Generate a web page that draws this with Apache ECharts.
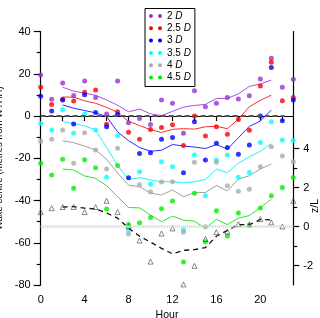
<!DOCTYPE html>
<html>
<head>
<meta charset="utf-8">
<script src="https://cdn.jsdelivr.net/npm/echarts@6/dist/echarts.min.js"></script>
<style>
html,body{margin:0;padding:0;background:#fff;}
#chart{width:320px;height:318px;}
</style>
</head>
<body>
<div id="chart"></div>
<script>
// ---- data ----
const hours = [0,1,2,3,4,5,6,7,8,9,10,11,12,13,14,15,16,17,18,19,20,21,22,23];
const fitHours = [2,3,4,5,6,7,8,9,10,11,12,13,14,15,16,17,18,19,20,21];
const seriesNames = ['2 D','2.5 D','3 D','3.5 D','4 D','4.5 D'];

const wake2D  = [19.4,7.9,15.6,9.7,16.6,8.8,1.0,16.6,-3.2,-1.2,-4.0,7.6,6.0,-8.2,12.0,4.4,6.0,8.8,8.0,9.6,17.5,27.3,13.6,17.4];
const wake25D = [13.6,5.5,7.9,7.1,11.3,12.3,-3.9,2.0,-7.7,-11.0,-6.4,-5.5,-4.1,-14.0,0.0,-9.5,-5.1,-8.6,-1.6,-6.8,14.2,25.4,7.2,8.8];
const wake3D  = [9.4,2.4,7.6,-3.8,10.1,1.6,-5.1,0.7,-29.2,-17.7,-17.4,-11.0,-10.2,-26.9,-2.7,-20.8,-12.9,-14.9,-18.1,-13.7,0.0,22.9,-2.2,7.6];
const wake35D = [-3.6,-6.6,3.0,-8.2,0.9,-6.6,-29.0,-9.4,-54.0,-26.4,-32.3,-21.6,-24.0,-53.8,-18.5,-37.7,-20.8,-18.5,-29.0,-26.7,-12.5,-2.7,-11.4,-11.6];
const wake4D  = [-11.9,-11.0,-6.6,-22.4,-7.9,-16.1,-25.1,-15.3,-55.9,-32.5,-36.0,-31.3,-31.1,-55.0,-21.9,-52.4,-21.9,-33.0,-35.6,-34.7,-24.0,-14.5,-18.9,-21.6];
const wake45D = [-22.4,-27.9,-20.5,-34.2,-20.7,-24.5,-44.0,-23.4,-51.4,-50.5,-48.0,-43.9,-40.2,-69.1,-36.6,-59.5,-44.9,-56.8,-45.9,-51.6,-43.6,-37.8,-33.8,-29.1];
const zOverL  = [0.74,0.94,1.0,1.0,0.74,1.0,1.32,0.74,0.02,-0.72,-1.8,-0.36,-0.1,-2.97,-2.02,-0.64,-0.29,-0.26,0.12,0.1,0.38,0.21,0.0,1.32];

const fit2D  = [13.6,11.8,10.8,9.8,7.6,5.1,2.0,3.3,1.0,0.2,2.2,4.2,5.0,5.5,8.3,8.3,10.5,14.0,15.2,17.0];
const fit25D = [9.0,8.9,7.2,6.0,4.1,1.7,-2.5,-4.5,-6.5,-7.8,-6.3,-6.0,-6.2,-5.1,-4.9,-6.0,-1.5,4.4,7.4,9.9];
const fit3D  = [5.2,3.7,2.6,1.5,-0.3,-7.5,-11.7,-14.9,-16.7,-16.2,-13.5,-14.2,-14.7,-15.4,-13.5,-15.7,-10.3,-4.9,-2.4,2.8];
const fit35D = [-2.7,-3.5,-4.7,-6.6,-14.9,-23.5,-30.0,-29.2,-30.3,-31.1,-31.1,-31.6,-31.1,-30.0,-25.2,-26.8,-22.4,-19.3,-16.7,-13.1];
const fit4D  = [-11.7,-12.6,-14.3,-16.1,-20.5,-27.0,-32.7,-33.5,-36.5,-37.4,-35.0,-38.2,-36.3,-36.2,-32.9,-35.4,-29.9,-28.3,-25.1,-22.7];
const fit45D = [-25.1,-25.6,-28.4,-29.5,-33.0,-38.2,-43.3,-43.5,-46.9,-50.0,-47.4,-49.3,-49.8,-53.2,-48.9,-51.4,-48.4,-47.1,-43.4,-39.4];
const fitZL  = [1.0,1.02,0.94,0.9,0.69,0.43,-0.08,-0.5,-0.8,-1.12,-1.4,-1.22,-1.19,-1.08,-0.5,-0.2,0.09,0.09,0.36,0.34];

const xTickValues = [0,2,4,6,8,10,12,14,16,18,20,22];
const xLabelValues = [0,4,8,12,16,20];
const zTickValues = [-2,0,2,4];
const zMinorTickValues = [-1,1,3];

// ---- styles ----
const dotColors  = ['#9a30d0','#ff0000','#0000ff','#00ffff','#aaaaaa','#00ee00'];
const lineColors = ['#a850e0','#ff2a2a','#2a2aff','#22eeff','#a0a0a0','#33dd33'];
const FONT = "'Liberation Sans', Arial, sans-serif";

const wakeArrays = [wake2D, wake25D, wake3D, wake35D, wake4D, wake45D];
const fitArrays  = [fit2D, fit25D, fit3D, fit35D, fit4D, fit45D];

const series = [];
seriesNames.forEach((name, i) => {
  series.push({
    name: name, type: 'line', data: fitHours.map((h, j) => [h, fitArrays[i][j]]),
    showSymbol: false, symbol: 'none', lineStyle: {color: lineColors[i], width: 1},
    itemStyle: {color: lineColors[i]}, silent: true, z: 2
  });
});
seriesNames.forEach((name, i) => {
  const s = {
    name: name, type: 'scatter', data: hours.map((h, j) => [h, wakeArrays[i][j]]),
    symbol: 'circle', symbolSize: 5, itemStyle: {color: dotColors[i]}, z: 3
  };
  if (i === 0) {
    s.markLine = {
      silent: true, symbol: 'none', label: {show: false},
      lineStyle: {color: '#555', width: 2, type: [5, 3]},
      data: [[{coord: [0, 0]}, {coord: [22.2, 0]}]]
    };
  }
  series.push(s);
});
series.push({
  name: 'zL', type: 'scatter', yAxisIndex: 1,
  data: hours.map((h, j) => [h, zOverL[j]]),
  symbol: 'triangle', symbolSize: 5,
  itemStyle: {color: 'rgba(255,255,255,0)', borderColor: '#444', borderWidth: 0.8}, z: 4,
  markLine: {
    silent: true, symbol: 'none', label: {show: false},
    lineStyle: {color: '#d4d4d4', width: 3, type: [1, 1]},
    data: [{yAxis: 0}]
  }
});
series.push({
  name: 'zL fit', type: 'line', yAxisIndex: 1,
  data: fitHours.map((h, j) => [h, fitZL[j]]),
  showSymbol: false, symbol: 'none', lineStyle: {color: '#111', width: 1.3, type: [5, 4]}, z: 4
});

const axisLineStyle = {color: '#000', width: 1.2};

const option = {
  animation: false,
  textStyle: {fontFamily: FONT},
  grid: {left: 40.7, right: 26.7, top: 31.5, bottom: 33, containLabel: false, outerBoundsMode: 'none'},
  legend: {
    data: seriesNames.map(n => ({name: n, itemStyle: {color: dotColors[seriesNames.indexOf(n)]}})),
    orient: 'vertical', left: 145, top: 8.5,
    itemWidth: 13, itemHeight: 4, itemGap: 2.3,
    padding: [2.5, 4, 4, 4],
    borderColor: '#000', borderWidth: 1,
    icon: 'path://M0,2A2,2,0,1,1,4,2A2,2,0,1,1,0,2ZM9,2A2,2,0,1,1,13,2A2,2,0,1,1,9,2Z',
    formatter: function (name) {
      const num = name.replace(' D', '');
      return '{n|' + num + ' }{i|D}';
    },
    textStyle: {
      fontFamily: FONT, fontSize: 10, color: '#000',
      rich: {
        n: {fontFamily: FONT, fontSize: 10, lineHeight: 12, color: '#000'},
        i: {fontFamily: FONT, fontSize: 10, lineHeight: 12, fontStyle: 'italic', color: '#000'}
      }
    },
    selectedMode: false
  },
  xAxis: {
    type: 'value', min: 0, max: 23,
    name: 'Hour', nameLocation: 'middle', nameGap: 19,
    nameTextStyle: {fontFamily: FONT, fontSize: 10.5, color: '#000'},
    axisLine: {show: true, lineStyle: axisLineStyle},
    axisTick: {show: true, length: 5, lineStyle: axisLineStyle, customValues: xTickValues},
    axisLabel: {fontFamily: FONT, fontSize: 11, color: '#000', margin: 9, customValues: xLabelValues},
    splitLine: {show: false}
  },
  yAxis: [
    {
      type: 'value', min: -80, max: 40, interval: 20, position: 'left',
      name: 'Wake centre (metres from WTHH)', nameLocation: 'middle', nameGap: 27, nameRotate: 90,
      nameTextStyle: {fontFamily: FONT, fontSize: 9.5, color: '#000'},
      axisLine: {show: true, lineStyle: axisLineStyle},
      axisTick: {show: true, length: 7, lineStyle: axisLineStyle},
      minorTick: {show: true, splitNumber: 2, length: 4, lineStyle: axisLineStyle},
      axisLabel: {fontFamily: FONT, fontSize: 11, color: '#000', margin: 10},
      splitLine: {show: false}, minorSplitLine: {show: false}
    },
    {
      type: 'value', min: -3, max: 10, position: 'right',
      axisLine: {show: true, lineStyle: axisLineStyle},
      axisTick: {show: true, length: 6, lineStyle: axisLineStyle, customValues: zTickValues},
      axisLabel: {fontFamily: FONT, fontSize: 11, color: '#000', margin: 10, customValues: zTickValues},
      splitLine: {show: false}
    },
    {
      type: 'value', min: -3, max: 10, position: 'right',
      axisLine: {show: false},
      axisTick: {show: true, length: 4, lineStyle: axisLineStyle, customValues: zMinorTickValues},
      axisLabel: {show: false},
      splitLine: {show: false}
    }
  ],
  graphic: [{
    type: 'text', x: 315, y: 206, rotation: Math.PI / 2,
    style: {text: 'z/L', font: '10.5px ' + FONT, fill: '#000', align: 'center', verticalAlign: 'middle'}
  }],
  series: series
};

const chart = echarts.init(document.getElementById('chart'), null, {renderer: 'canvas'});
chart.setOption(option);
</script>
</body>
</html>
